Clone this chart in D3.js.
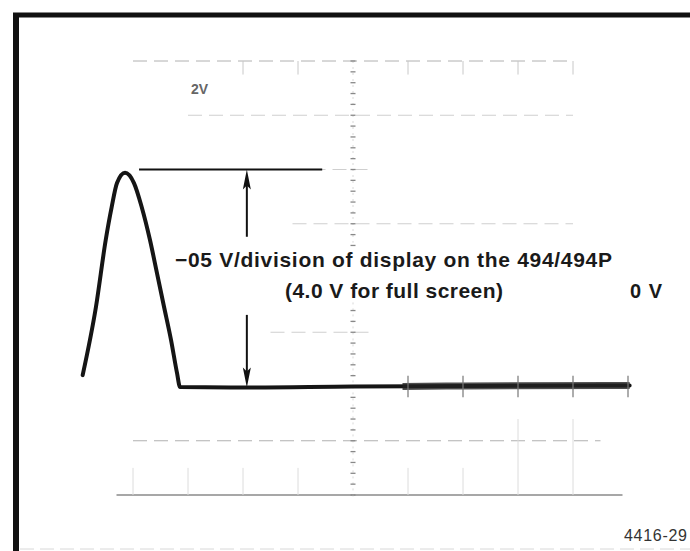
<!DOCTYPE html>
<html>
<head>
<meta charset="utf-8">
<script src="https://cdn.jsdelivr.net/npm/d3@7"></script>
<style>
  html, body { margin: 0; padding: 0; background: #fff; }
  svg { display: block; }
</style>
</head>
<body>
<svg id="chart" width="690" height="551"></svg>
<script>
// ---- data (divisions on a 10 x 8 graticule; 0.5 V/div) ----
const traceX = [0.085, 0.327, 0.504, 0.613, 0.709, 0.855, 1.018, 1.158, 1.309, 1.436, 1.564, 1.691, 1.80, 1.855, 3.0, 5.0, 7.0, 10.03];
const traceY = [2.21, 3.47, 4.70, 5.31, 5.75, 5.94, 5.75, 5.31, 4.70, 4.09, 3.47, 2.86, 2.25, 1.99, 1.98, 2.0, 2.01, 2.02];
const gridRows = [0, 1, 3, 5, 6, 7, 8];
const gridRowStart = [0.7, 1.0, 3.5, 3.9, 3.1, 2.0, 1.0];
const gridRowEnd = [9.9, 9.5, 5.4, 9.0, 5.3, 9.0, 9.0];
const gridCols = [1, 2, 3, 4, 6, 7, 8, 9];
const peakLevel = 6.0;
const baseLevel = 1.98;
const refLineX = [1.11, 4.44];
const arrowX = 3.07;
const arrowUpFrom = 4.76;
const arrowDownFrom = 3.32;
const labelLines = ["\u221205 V/division of display on the 494/494P", "(4.0 V for full screen)"];
const zeroLabel = "0 V";
const figLabel = "4416-29";
const scopeLabel = "2V";

// ---- scales ----
const svg = d3.select("#chart");
const x = d3.scaleLinear().domain([0, 10]).range([78, 628]);
const y = d3.scaleLinear().domain([0, 8]).range([495, 61]);

// ---- frame ----
svg.append("line").attr("x1", 13).attr("x2", 690).attr("y1", 15).attr("y2", 15)
  .attr("stroke", "#111").attr("stroke-width", 5);
svg.append("line").attr("x1", 16).attr("x2", 16).attr("y1", 13).attr("y2", 551)
  .attr("stroke", "#111").attr("stroke-width", 6);
svg.append("line").attr("x1", 20).attr("x2", 690).attr("y1", 549).attr("y2", 549)
  .attr("stroke", "#d8d8d8").attr("stroke-width", 1).attr("stroke-dasharray", "14,6");

// ---- graticule ----
const g = svg.append("g");
g.selectAll("line.row").data(gridRows).join("line")
  .attr("class", "row")
  .attr("x1", (d, i) => x(gridRowStart[i]))
  .attr("x2", (d, i) => x(gridRowEnd[i]))
  .attr("y1", d => y(d)).attr("y2", d => y(d))
  .attr("stroke", d => d === 0 ? "#8a8a8a" : (d === 1 || d === 8 ? "#b0b0b0" : "#cfcfcf"))
  .attr("stroke-width", d => d === 0 ? 1.4 : 1)
  .attr("stroke-dasharray", d => d === 0 ? null : "14,7");
g.selectAll("line.col").data(gridCols).join("line")
  .attr("class", "col")
  .attr("x1", d => x(d)).attr("x2", d => x(d))
  .attr("y1", y(0)).attr("y2", d => d >= 8 ? y(1.4) : y(0.5))
  .attr("stroke", "#dcdcdc").attr("stroke-width", 1);
g.selectAll("line.coltop").data(gridCols.filter(d => d >= 3)).join("line")
  .attr("class", "coltop")
  .attr("x1", d => x(d)).attr("x2", d => x(d))
  .attr("y1", y(8)).attr("y2", y(7.75))
  .attr("stroke", "#c8c8c8").attr("stroke-width", 1);
// centre vertical with minor ticks
const minor = d3.range(0, 8.01, 0.2).filter(v => v < 3.6 || v > 4.6);
g.append("line").attr("x1", x(5)).attr("x2", x(5)).attr("y1", y(8)).attr("y2", y(4.65))
  .attr("stroke", "#d8d8d8").attr("stroke-width", 1).attr("stroke-dasharray", "2,4");
g.append("line").attr("x1", x(5)).attr("x2", x(5)).attr("y1", y(3.55)).attr("y2", y(-0.1))
  .attr("stroke", "#d8d8d8").attr("stroke-width", 1).attr("stroke-dasharray", "2,4");
g.selectAll("line.minor").data(minor).join("line")
  .attr("class", "minor")
  .attr("x1", x(5) - 2.5).attr("x2", x(5) + 2.5)
  .attr("y1", d => y(d)).attr("y2", d => y(d))
  .attr("stroke", "#888").attr("stroke-width", 1.3);

// ---- reference line and arrows ----
svg.append("line").attr("x1", x(refLineX[0])).attr("x2", x(refLineX[1]))
  .attr("y1", y(peakLevel)).attr("y2", y(peakLevel))
  .attr("stroke", "#111").attr("stroke-width", 2);
const ax = x(arrowX);
function arrow(fromV, toV) {
  const y0 = y(fromV), y1 = y(toV);
  const dir = Math.sign(y1 - y0);
  const headLen = 20, headW = 4;
  svg.append("line").attr("x1", ax).attr("x2", ax).attr("y1", y0).attr("y2", y1 - dir * headLen * 0.6)
    .attr("stroke", "#111").attr("stroke-width", 2);
  svg.append("path")
    .attr("d", `M${ax},${y1} L${ax - headW},${y1 - dir * headLen} L${ax},${y1 - dir * headLen * 0.8} L${ax + headW},${y1 - dir * headLen} Z`)
    .attr("fill", "#111");
}
arrow(arrowUpFrom, peakLevel);
arrow(arrowDownFrom, baseLevel);

// ---- trace ----
const pts = traceX.map((v, i) => [v, traceY[i]]);
const line = d3.line().x(d => x(d[0])).y(d => y(d[1])).curve(d3.curveMonotoneX);
svg.append("path").datum(pts).attr("d", line)
  .attr("fill", "none").attr("stroke", "#151515").attr("stroke-width", 4)
  .attr("stroke-linejoin", "round").attr("stroke-linecap", "round");
// thicker noisy portion of the baseline
const noisy = pts.filter(d => d[0] > 5.9);
svg.append("path").datum([[5.9, 2.0]].concat(noisy))
  .attr("d", line).attr("fill", "none").attr("stroke", "#222").attr("stroke-width", 7)
  .attr("opacity", 0.8);
svg.selectAll("line.spike").data([6, 7, 8, 9, 10]).join("line")
  .attr("class", "spike")
  .attr("x1", d => x(d)).attr("x2", d => x(d))
  .attr("y1", y(2.2)).attr("y2", y(1.8))
  .attr("stroke", "#777").attr("stroke-width", 2).attr("opacity", 0.6);

// ---- text ----
const font = "'Liberation Sans', Arial, Helvetica, sans-serif";
svg.append("text").attr("x", 393.5).attr("y", 267).attr("text-anchor", "middle")
  .attr("font-family", font).attr("font-weight", "bold").attr("font-size", 21)
  .attr("fill", "#1a1a1a").attr("textLength", 437).attr("lengthAdjust", "spacing")
  .text(labelLines[0]);
svg.append("text").attr("x", 394).attr("y", 297.5).attr("text-anchor", "middle")
  .attr("font-family", font).attr("font-weight", "bold").attr("font-size", 21)
  .attr("fill", "#1a1a1a").attr("textLength", 218).attr("lengthAdjust", "spacing")
  .text(labelLines[1]);
svg.append("text").attr("x", 630).attr("y", 298)
  .attr("font-family", font).attr("font-weight", "bold").attr("font-size", 20)
  .attr("fill", "#1a1a1a").attr("textLength", 32).attr("lengthAdjust", "spacing")
  .text(zeroLabel);
svg.append("text").attr("x", 624).attr("y", 541)
  .attr("font-family", font).attr("font-size", 16)
  .attr("fill", "#333").attr("textLength", 63).attr("lengthAdjust", "spacing")
  .text(figLabel);
svg.append("text").attr("x", 191).attr("y", 94)
  .attr("font-family", font).attr("font-weight", "bold").attr("font-size", 14)
  .attr("fill", "#666").text(scopeLabel);
</script>
</body>
</html>
